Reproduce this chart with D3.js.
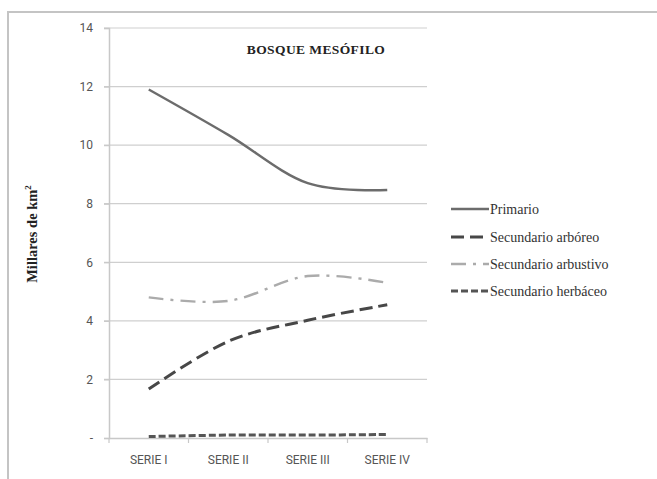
<!DOCTYPE html>
<html><head><meta charset="utf-8">
<script src="https://cdn.jsdelivr.net/npm/d3@7"></script>
<style>body{margin:0;background:#fff}svg{display:block}</style>
</head><body>
<svg id="c" width="657" height="479"></svg>
<script>
const categories = ["SERIE I","SERIE II","SERIE III","SERIE IV"];
const primario = [11.9, 10.35, 8.7, 8.47];
const arboreo = [1.67, 3.3, 4.02, 4.55];
const arbustivo = [4.8, 4.68, 5.53, 5.3];
const herbaceo = [0.05, 0.1, 0.1, 0.12];
const seriesNames = ["Primario","Secundario arbóreo","Secundario arbustivo","Secundario herbáceo"];
const yTicks = [0,2,4,6,8,10,12,14];
const title = "BOSQUE MESÓFILO";
const yTitle = "Millares de km";

const SERIF = "'Liberation Serif','Times New Roman',serif";
const SANS = "'Liberation Sans Narrow','Roboto','Open Sans',sans-serif";
const svg = d3.select("#c");
svg.append("rect").attr("x",8).attr("y",12).attr("width",700).attr("height",520)
  .attr("fill","none").attr("stroke","#c4c4c4").attr("stroke-width",2);

const L=109,R=427,T=28,B=438;
const x = d3.scaleBand().domain(categories).range([L,R]);
const y = d3.scaleLinear().domain([0,14]).range([B,T]);

svg.append("g").selectAll("line").data(yTicks.filter(d=>d>0)).join("line")
  .attr("x1",L-5).attr("x2",R).attr("y1",d=>y(d)).attr("y2",d=>y(d))
  .attr("stroke","#cfcfcf").attr("stroke-width",1.2);

const ya = svg.append("g").attr("transform",`translate(${L},0)`)
  .call(d3.axisLeft(y).tickValues(yTicks).tickSize(5).tickPadding(11).tickFormat(d=>d===0?"-":d));
ya.select(".domain").attr("stroke","#c8c8c8").attr("stroke-width",1.5);
ya.selectAll(".tick line").attr("stroke","#c8c8c8").attr("stroke-width",1.2);
ya.selectAll("text").attr("fill","#555").style("font-family",SANS).style("font-size","12px");

const xa = svg.append("g").attr("transform",`translate(0,${B})`)
  .call(d3.axisBottom(x).tickSize(0).tickPadding(17));
xa.select(".domain").attr("stroke","#c8c8c8").attr("stroke-width",1.5);
xa.selectAll("text").attr("fill","#555").style("font-family",SANS).style("font-size","12px");
const bounds = categories.map(c=>x(c)).concat([R]);
svg.append("g").selectAll("line").data(bounds).join("line")
  .attr("x1",d=>d).attr("x2",d=>d).attr("y1",B).attr("y2",B+5)
  .attr("stroke","#c8c8c8").attr("stroke-width",1.2);

const styles = [
  {data:primario, color:"#6c6c6c", w:2.4, dash:null},
  {data:arboreo, color:"#474747", w:3, dash:"13,6"},
  {data:arbustivo, color:"#ababab", w:2.4, dash:"15,7,3,7"},
  {data:herbaceo, color:"#555", w:3, dash:"7,3"}
];
const line = d3.line().x((d,i)=>x(categories[i])+x.bandwidth()/2).y(d=>y(d)).curve(d3.curveCardinal.tension(0));
styles.forEach(s=>{
  svg.append("path").attr("d",line(s.data)).attr("fill","none")
    .attr("stroke",s.color).attr("stroke-width",s.w).attr("stroke-dasharray",s.dash);
});

svg.append("text").attr("x",316).attr("y",54).attr("text-anchor","middle")
  .style("font-family",SERIF).style("font-weight","bold").style("font-size","13.5px")
  .style("letter-spacing","0.4px").attr("fill","#222").text(title);

const yt = svg.append("text").attr("transform","translate(37,234) rotate(-90)").attr("text-anchor","middle")
  .style("font-family",SERIF).style("font-weight","bold").style("font-size","14.5px").attr("fill","#222");
yt.append("tspan").text(yTitle);
yt.append("tspan").attr("dy",-6).style("font-size","9px").text("2");

const legY = [209,237,264,291];
const lg = svg.append("g");
styles.forEach((s,i)=>{
  lg.append("line").attr("x1",451).attr("x2",489).attr("y1",legY[i]).attr("y2",legY[i])
    .attr("stroke",s.color).attr("stroke-width",s.w).attr("stroke-dasharray",s.dash);
  lg.append("text").attr("x",490).attr("y",legY[i]+4.5)
    .style("font-family",SERIF).style("font-size","14px").attr("fill","#333")
    .text(seriesNames[i]);
});
</script>
</body></html>
